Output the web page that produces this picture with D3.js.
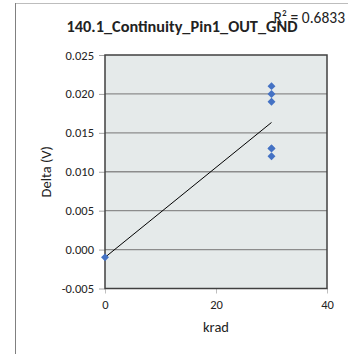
<!DOCTYPE html>
<html>
<head>
<meta charset="utf-8">
<script src="https://cdn.jsdelivr.net/npm/d3@7"></script>
<style>
  body { margin: 0; background: #fff; }
  text { font-family: Calibri, Carlito, "Liberation Sans", Arial, sans-serif; }
</style>
</head>
<body>
<svg width="348" height="354"></svg>
<script>
// data
const kradValues = [0, 30, 30, 30, 30, 30, 30];
const deltaValues = [-0.001, 0.021, 0.020, 0.019, 0.013, 0.012, 0.013];
const yTicks = [-0.005, 0.000, 0.005, 0.010, 0.015, 0.020, 0.025];
const xTicks = [0, 20, 40];
const chartTitle = '140.1_Continuity_Pin1_OUT_GND';
const rSquaredLabel = 'R² = 0.6833';

const svg = d3.select('svg');

// outer chart frame (only top and left show)
svg.append('line')
  .attr('x1', 15.5).attr('y1', 3.5).attr('x2', 348).attr('y2', 3.5)
  .attr('stroke', '#bdbdbd').attr('stroke-width', 1);
svg.append('line')
  .attr('x1', 15.5).attr('y1', 3).attr('x2', 15.5).attr('y2', 354)
  .attr('stroke', '#808080').attr('stroke-width', 1);

const plotL = 105, plotR = 327, plotT = 55, plotB = 288.5;

const x = d3.scaleLinear().domain([0, 40]).range([plotL, plotR]);
const y = d3.scaleLinear().domain([-0.005, 0.025]).range([plotB, plotT]);

// plot area
svg.append('rect')
  .attr('x', plotL).attr('y', plotT)
  .attr('width', plotR - plotL).attr('height', plotB - plotT)
  .attr('fill', '#e5eaea');

// gridlines
svg.append('g')
  .selectAll('line')
  .data(yTicks.slice(1, -1))
  .join('line')
  .attr('x1', plotL).attr('x2', plotR)
  .attr('y1', d => y(d)).attr('y2', d => y(d))
  .attr('stroke', '#8c8c8c')
  .attr('stroke-width', 1.3);

// y axis (plain hyphen for negatives, like Excel)
const fmt = d3.format('.3f');
const yAxis = svg.append('g')
  .attr('transform', `translate(${plotL},0)`)
  .call(d3.axisLeft(y).tickValues(yTicks)
    .tickFormat(d => fmt(d).replace('\u2212', '-'))
    .tickSize(6).tickPadding(5));
yAxis.select('.domain').remove();
yAxis.selectAll('line').attr('stroke', '#a6a6a6');
yAxis.selectAll('text').attr('font-size', 12.5).attr('fill', '#222');

// x axis
const xAxis = svg.append('g')
  .attr('transform', `translate(0,${plotB})`)
  .call(d3.axisBottom(x).tickValues(xTicks).tickSize(5).tickPadding(7));
xAxis.select('.domain').remove();
xAxis.selectAll('line').attr('stroke', '#bfbfbf');
xAxis.selectAll('text').attr('font-size', 12.5).attr('fill', '#222');

// plot border
svg.append('rect')
  .attr('x', plotL).attr('y', plotT)
  .attr('width', plotR - plotL).attr('height', plotB - plotT)
  .attr('fill', 'none')
  .attr('stroke', '#404040')
  .attr('stroke-width', 1.5);

// linear trendline (least squares)
const mx = d3.mean(kradValues), my = d3.mean(deltaValues);
const slope = d3.sum(kradValues, (v, i) => (v - mx) * (deltaValues[i] - my)) /
  d3.sum(kradValues, v => (v - mx) * (v - mx));
const intercept = my - slope * mx;
const xExtent = d3.extent(kradValues);
svg.append('line')
  .attr('x1', x(xExtent[0])).attr('y1', y(intercept + slope * xExtent[0]))
  .attr('x2', x(xExtent[1])).attr('y2', y(intercept + slope * xExtent[1]))
  .attr('stroke', '#000')
  .attr('stroke-width', 1);

// points
const diamond = d3.symbol().type(d3.symbolDiamond2).size(40);
svg.append('g')
  .selectAll('path')
  .data(kradValues)
  .join('path')
  .attr('d', diamond)
  .attr('transform', (d, i) => `translate(${x(d)},${y(deltaValues[i])})`)
  .attr('fill', '#4472c4');

// titles
svg.append('text')
  .attr('x', 182).attr('y', 32)
  .attr('text-anchor', 'middle')
  .attr('font-size', 16.3)
  .attr('font-weight', 'bold')
  .attr('fill', '#222')
  .text(chartTitle);

svg.append('text')
  .attr('x', 345).attr('y', 23)
  .attr('text-anchor', 'end')
  .attr('font-size', 15.5)
  .attr('fill', '#222')
  .text(rSquaredLabel);

svg.append('text')
  .attr('x', x(20)).attr('y', 332)
  .attr('text-anchor', 'middle')
  .attr('font-size', 14.5)
  .attr('fill', '#222')
  .text('krad');

svg.append('text')
  .attr('transform', `translate(51,${(plotT + plotB) / 2}) rotate(-90)`)
  .attr('text-anchor', 'middle')
  .attr('font-size', 14.5)
  .attr('fill', '#222')
  .text('Delta (V)');
</script>
</body>
</html>
